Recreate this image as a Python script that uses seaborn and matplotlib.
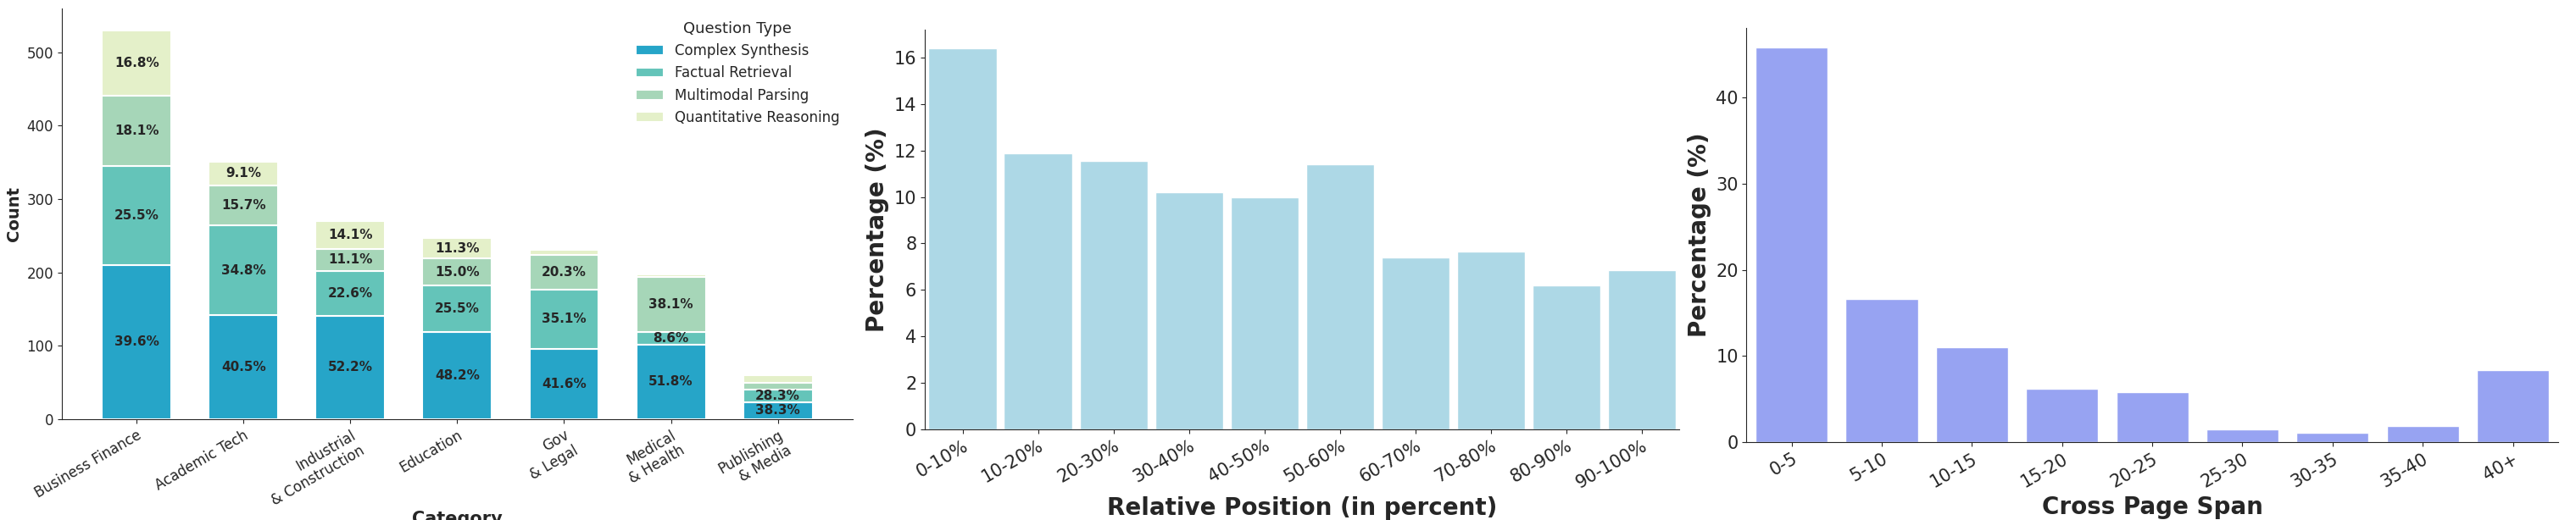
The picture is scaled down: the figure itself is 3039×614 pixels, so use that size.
import numpy as np
import pandas as pd
import matplotlib
matplotlib.use('Agg')
import matplotlib.pyplot as plt
import seaborn as sns

sns.set_style('ticks')

# panel 1 data
categories = ['Business Finance', 'Academic Tech', 'Industrial\n& Construction', 'Education',
              'Gov\n& Legal', 'Medical\n& Health', 'Publishing\n& Media']
qtypes = ['Complex Synthesis', 'Factual Retrieval', 'Multimodal Parsing', 'Quantitative Reasoning']
complex_synthesis = [210, 142, 141, 119, 96, 102, 23]
factual_retrieval = [135, 122, 61, 63, 81, 17, 17]
multimodal_parsing = [96, 55, 30, 37, 47, 75, 9]
quantitative_reasoning = [89, 32, 38, 28, 7, 3, 11]
qcolors = ['#26a5c8', '#64c4b9', '#a6d6b8', '#e4f0c9']

# panel 2 data
pos_labels = ['0-10%', '10-20%', '20-30%', '30-40%', '40-50%', '50-60%', '60-70%', '70-80%', '80-90%', '90-100%']
pos_pct = [16.4, 11.9, 11.55, 10.2, 10.0, 11.4, 7.4, 7.65, 6.2, 6.85]

# panel 3 data
span_labels = ['0-5', '5-10', '10-15', '15-20', '20-25', '25-30', '30-35', '35-40', '40+']
span_pct = [45.8, 16.6, 11.0, 6.2, 5.8, 1.5, 1.1, 1.9, 8.4]

fig = plt.figure(figsize=(30.39, 6.14), dpi=100)
ax1 = fig.add_axes([0.024, 0.194, 0.307, 0.79])
ax2 = fig.add_axes([0.359, 0.175, 0.293, 0.768])
ax3 = fig.add_axes([0.678, 0.15, 0.315, 0.796])

# stacked bars
series = [complex_synthesis, factual_retrieval, multimodal_parsing, quantitative_reasoning]
totals = np.sum(series, axis=0)
bottom = np.zeros(len(categories))
for name, vals, col in zip(qtypes, series, qcolors):
    vals = np.array(vals)
    ax1.bar(categories, vals, bottom=bottom, color=col, edgecolor='white', linewidth=1.5,
            width=0.65, label=name)
    for i, v in enumerate(vals):
        if v >= 15:
            ax1.text(i, bottom[i] + v / 2, f'{v / totals[i] * 100:.1f}%', ha='center', va='center',
                     fontsize=11, fontweight='bold')
    bottom += vals
ax1.set_xlim(-0.7, 6.7)
ax1.set_ylim(0, 560)
ax1.set_ylabel('Count', fontsize=14, fontweight='bold')
ax1.set_xlabel('Category', fontsize=15, fontweight='bold', labelpad=2)
ax1.tick_params(axis='both', labelsize=12)
plt.setp(ax1.get_xticklabels(), rotation=30, ha='right', rotation_mode='anchor')
ax1.legend(title='Question Type', frameon=False, fontsize=12, title_fontsize=13, loc='upper right')
sns.despine(ax=ax1)

# relative position
sns.barplot(x=pos_labels, y=pos_pct, color='lightblue', saturation=1, width=0.9, ax=ax2)
ax2.set_xlabel('Relative Position (in percent)', fontsize=20, fontweight='bold', labelpad=4)
ax2.set_ylabel('Percentage (%)', fontsize=20, fontweight='bold')
ax2.tick_params(axis='both', labelsize=15)
plt.setp(ax2.get_xticklabels(), rotation=30, ha='right', rotation_mode='anchor')
sns.despine(ax=ax2)

# cross page span
sns.barplot(x=span_labels, y=span_pct, color='#97a3f2', saturation=1, width=0.8, ax=ax3)
ax3.set_xlabel('Cross Page Span', fontsize=20, fontweight='bold', labelpad=4)
ax3.set_ylabel('Percentage (%)', fontsize=20, fontweight='bold')
ax3.tick_params(axis='both', labelsize=15)
plt.setp(ax3.get_xticklabels(), rotation=30, ha='right', rotation_mode='anchor')
sns.despine(ax=ax3)

fig.savefig('out.png', dpi=100)
